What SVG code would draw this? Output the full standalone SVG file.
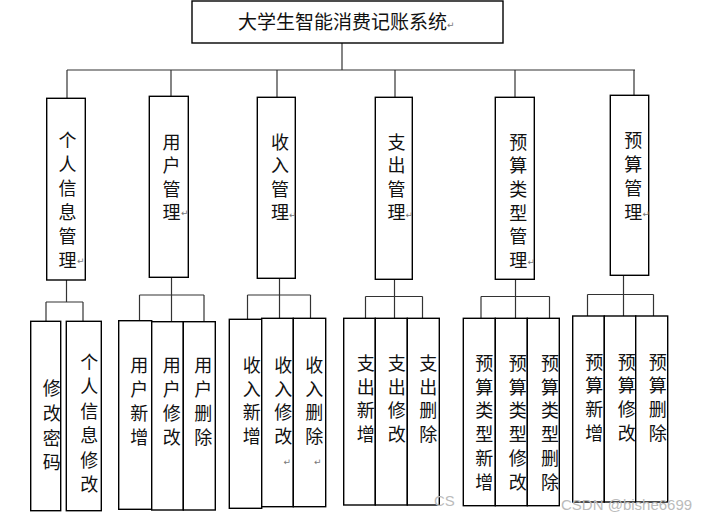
<svg xmlns="http://www.w3.org/2000/svg" width="703" height="521" viewBox="0 0 703 521">
<style>
.box{fill:#fff;stroke:#000;stroke-width:1.4}
.t{font-family:"Noto Sans CJK SC","Noto Sans CJK JP",sans-serif;font-size:18px;fill:#111;text-anchor:middle}
.tt{font-family:"Noto Sans CJK SC","Noto Sans CJK JP",sans-serif;font-size:19px;fill:#111;text-anchor:middle}
.pm{font-family:"DejaVu Sans",sans-serif;font-size:9px;fill:#777}
.wm{font-family:"Liberation Sans",Arial,sans-serif;font-size:15px;fill:#bbb}
#connectors line{stroke:#333;stroke-width:1.2}
</style>
<rect width="703" height="521" fill="#fff"/>
<g id="connectors">
<line x1="342" y1="43" x2="342" y2="70"/>
<line x1="67" y1="70" x2="635" y2="70"/>
<line x1="67" y1="70" x2="67" y2="98"/>
<line x1="171" y1="70" x2="171" y2="96"/>
<line x1="277" y1="70" x2="277" y2="97"/>
<line x1="395" y1="70" x2="395" y2="97"/>
<line x1="515" y1="70" x2="515" y2="97"/>
<line x1="634" y1="70" x2="634" y2="95"/>
<line x1="66.5" y1="280" x2="66.5" y2="302"/>
<line x1="46" y1="302" x2="83" y2="302"/>
<line x1="46" y1="302" x2="46" y2="321"/>
<line x1="83" y1="302" x2="83" y2="321"/>
<line x1="171.5" y1="277" x2="171.5" y2="321"/>
<line x1="139.5" y1="295" x2="204" y2="295"/>
<line x1="139.5" y1="295" x2="139.5" y2="321"/>
<line x1="204" y1="295" x2="204" y2="321"/>
<line x1="279.5" y1="278" x2="279.5" y2="318"/>
<line x1="247.5" y1="295" x2="310.5" y2="295"/>
<line x1="247.5" y1="295" x2="247.5" y2="319"/>
<line x1="310.5" y1="295" x2="310.5" y2="318"/>
<line x1="394.5" y1="279" x2="394.5" y2="318"/>
<line x1="365.5" y1="296.5" x2="422.5" y2="296.5"/>
<line x1="365.5" y1="296.5" x2="365.5" y2="318"/>
<line x1="422.5" y1="296.5" x2="422.5" y2="318"/>
<line x1="515.5" y1="279" x2="515.5" y2="318"/>
<line x1="481" y1="296.5" x2="549.5" y2="296.5"/>
<line x1="481" y1="296.5" x2="481" y2="318"/>
<line x1="549.5" y1="296.5" x2="549.5" y2="318"/>
<line x1="623.5" y1="275" x2="623.5" y2="316"/>
<line x1="587.5" y1="294.5" x2="653.5" y2="294.5"/>
<line x1="587.5" y1="294.5" x2="587.5" y2="316"/>
<line x1="653.5" y1="294.5" x2="653.5" y2="316"/>
</g>
<g id="title">
<rect class="box" x="192" y="1" width="311" height="42"/>
<text class="tt" x="342.5" y="29">大学生智能消费记账系统</text>
<text class="pm" x="447" y="28">↵</text>
</g>
<g id="n-personal">
<rect class="box" x="46.7" y="98.3" width="38.6" height="181.7"/>
<text class="t"><tspan x="67.5" y="147">个</tspan><tspan x="67.5" y="171">人</tspan><tspan x="67.5" y="195">信</tspan><tspan x="67.5" y="219">息</tspan><tspan x="67.5" y="243">管</tspan><tspan x="67.5" y="267">理</tspan></text>
<text class="pm" x="77" y="264">↵</text>
</g>
<g id="n-user">
<rect class="box" x="149.3" y="96.3" width="39" height="181"/>
<text class="t"><tspan x="171.5" y="148.5">用</tspan><tspan x="171.5" y="172">户</tspan><tspan x="171.5" y="195.5">管</tspan><tspan x="171.5" y="219">理</tspan></text>
<text class="pm" x="181" y="216">↵</text>
</g>
<g id="n-income">
<rect class="box" x="257.3" y="97.3" width="38" height="181"/>
<text class="t"><tspan x="280" y="148.5">收</tspan><tspan x="280" y="172">入</tspan><tspan x="280" y="195.5">管</tspan><tspan x="280" y="219">理</tspan></text>
<text class="pm" x="289" y="218">↵</text>
</g>
<g id="n-expense">
<rect class="box" x="375.3" y="97.3" width="37" height="182"/>
<text class="t"><tspan x="396.5" y="148.5">支</tspan><tspan x="396.5" y="172">出</tspan><tspan x="396.5" y="195.5">管</tspan><tspan x="396.5" y="219">理</tspan></text>
<text class="pm" x="405.5" y="218">↵</text>
</g>
<g id="n-budgettype">
<rect class="box" x="495.3" y="97.3" width="39" height="182"/>
<text class="t"><tspan x="518.3" y="148.5">预</tspan><tspan x="518.3" y="172.2">算</tspan><tspan x="518.3" y="195.9">类</tspan><tspan x="518.3" y="219.6">型</tspan><tspan x="518.3" y="243.3">管</tspan><tspan x="518.3" y="267">理</tspan></text>
<text class="pm" x="527.5" y="265">↵</text>
</g>
<g id="n-budget">
<rect class="box" x="610.3" y="95.3" width="38.4" height="180"/>
<text class="t"><tspan x="633.3" y="147">预</tspan><tspan x="633.3" y="171">算</tspan><tspan x="633.3" y="195">管</tspan><tspan x="633.3" y="219">理</tspan></text>
<text class="pm" x="642.5" y="217">↵</text>
</g>
<g id="c-pwd">
<rect class="box" x="30.7" y="321.3" width="30" height="189.4"/>
<text class="t"><tspan x="51.7" y="395">修</tspan><tspan x="51.7" y="420">改</tspan><tspan x="51.7" y="445">密</tspan><tspan x="51.7" y="469">码</tspan></text>
</g>
<g id="c-info">
<rect class="box" x="66.3" y="321.3" width="35" height="189.4"/>
<text class="t"><tspan x="89.3" y="368.5">个</tspan><tspan x="89.3" y="393">人</tspan><tspan x="89.3" y="417.5">信</tspan><tspan x="89.3" y="442">息</tspan><tspan x="89.3" y="466.5">修</tspan><tspan x="89.3" y="491">改</tspan></text>
</g>
<g id="c-useradd">
<rect class="box" x="118.7" y="320.7" width="33" height="188.6"/>
<text class="t"><tspan x="139.3" y="372">用</tspan><tspan x="139.3" y="396">户</tspan><tspan x="139.3" y="420">新</tspan><tspan x="139.3" y="444">增</tspan></text>
</g>
<g id="c-useredit">
<rect class="box" x="151.7" y="321.7" width="31.6" height="188.3"/>
<text class="t"><tspan x="171.7" y="372">用</tspan><tspan x="171.7" y="396">户</tspan><tspan x="171.7" y="420">修</tspan><tspan x="171.7" y="444">改</tspan></text>
</g>
<g id="c-userdel">
<rect class="box" x="183.3" y="321.7" width="32" height="188.3"/>
<text class="t"><tspan x="203.3" y="372">用</tspan><tspan x="203.3" y="396">户</tspan><tspan x="203.3" y="420">删</tspan><tspan x="203.3" y="444">除</tspan></text>
</g>
<g id="c-incadd">
<rect class="box" x="229.3" y="319.3" width="32.4" height="189"/>
<text class="t"><tspan x="251.7" y="372">收</tspan><tspan x="251.7" y="395.5">入</tspan><tspan x="251.7" y="419">新</tspan><tspan x="251.7" y="442.5">增</tspan></text>
</g>
<g id="c-incedit">
<rect class="box" x="261.7" y="318.3" width="31.6" height="188.4"/>
<text class="t"><tspan x="283.3" y="372">收</tspan><tspan x="283.3" y="395.5">入</tspan><tspan x="283.3" y="419">修</tspan><tspan x="283.3" y="442.5">改</tspan></text>
<text class="pm" x="283.5" y="465">↵</text>
</g>
<g id="c-incdel">
<rect class="box" x="293.3" y="318.3" width="32.4" height="188.4"/>
<text class="t"><tspan x="314.3" y="372">收</tspan><tspan x="314.3" y="395.5">入</tspan><tspan x="314.3" y="419">删</tspan><tspan x="314.3" y="442.5">除</tspan></text>
<text class="pm" x="314" y="465">↵</text>
</g>
<g id="c-expadd">
<rect class="box" x="343.7" y="318.3" width="31.6" height="186.7"/>
<text class="t"><tspan x="365.7" y="370">支</tspan><tspan x="365.7" y="393.6">出</tspan><tspan x="365.7" y="417.2">新</tspan><tspan x="365.7" y="441">增</tspan></text>
</g>
<g id="c-expedit">
<rect class="box" x="375.3" y="318.3" width="32" height="186.7"/>
<text class="t"><tspan x="396.7" y="370">支</tspan><tspan x="396.7" y="393.6">出</tspan><tspan x="396.7" y="417.2">修</tspan><tspan x="396.7" y="441">改</tspan></text>
</g>
<g id="c-expdel">
<rect class="box" x="407.3" y="318.3" width="32" height="186.7"/>
<text class="t"><tspan x="428.3" y="370">支</tspan><tspan x="428.3" y="393.6">出</tspan><tspan x="428.3" y="417.2">删</tspan><tspan x="428.3" y="441">除</tspan></text>
</g>
<g id="c-btadd">
<rect class="box" x="463.3" y="318.3" width="32" height="187.4"/>
<text class="t"><tspan x="484.3" y="370">预</tspan><tspan x="484.3" y="393.7">算</tspan><tspan x="484.3" y="417.4">类</tspan><tspan x="484.3" y="441.1">型</tspan><tspan x="484.3" y="464.8">新</tspan><tspan x="484.3" y="488.5">增</tspan></text>
</g>
<g id="c-btedit">
<rect class="box" x="495.3" y="318.3" width="32" height="187.4"/>
<text class="t"><tspan x="517.7" y="370">预</tspan><tspan x="517.7" y="393.7">算</tspan><tspan x="517.7" y="417.4">类</tspan><tspan x="517.7" y="441.1">型</tspan><tspan x="517.7" y="464.8">修</tspan><tspan x="517.7" y="488.5">改</tspan></text>
</g>
<g id="c-btdel">
<rect class="box" x="527.3" y="318.3" width="32" height="187.4"/>
<text class="t"><tspan x="550" y="370">预</tspan><tspan x="550" y="393.7">算</tspan><tspan x="550" y="417.4">类</tspan><tspan x="550" y="441.1">型</tspan><tspan x="550" y="464.8">删</tspan><tspan x="550" y="488.5">除</tspan></text>
</g>
<g id="c-badd">
<rect class="box" x="572.7" y="316" width="31.6" height="186"/>
<text class="t"><tspan x="594.3" y="368.5">预</tspan><tspan x="594.3" y="392.4">算</tspan><tspan x="594.3" y="416.3">新</tspan><tspan x="594.3" y="440.2">增</tspan></text>
</g>
<g id="c-bedit">
<rect class="box" x="604.3" y="316" width="31.4" height="186"/>
<text class="t"><tspan x="626.7" y="368.5">预</tspan><tspan x="626.7" y="392.4">算</tspan><tspan x="626.7" y="416.3">修</tspan><tspan x="626.7" y="440.2">改</tspan></text>
</g>
<g id="c-bdel">
<rect class="box" x="635.7" y="316" width="32" height="186"/>
<text class="t"><tspan x="657.7" y="368.5">预</tspan><tspan x="657.7" y="392.4">算</tspan><tspan x="657.7" y="416.3">删</tspan><tspan x="657.7" y="440.2">除</tspan></text>
</g>
<g id="watermark">
<text class="wm" x="434" y="506">CS</text>
<text class="wm" x="561" y="510">CSDN @bishe6699</text>
</g>
</svg>
